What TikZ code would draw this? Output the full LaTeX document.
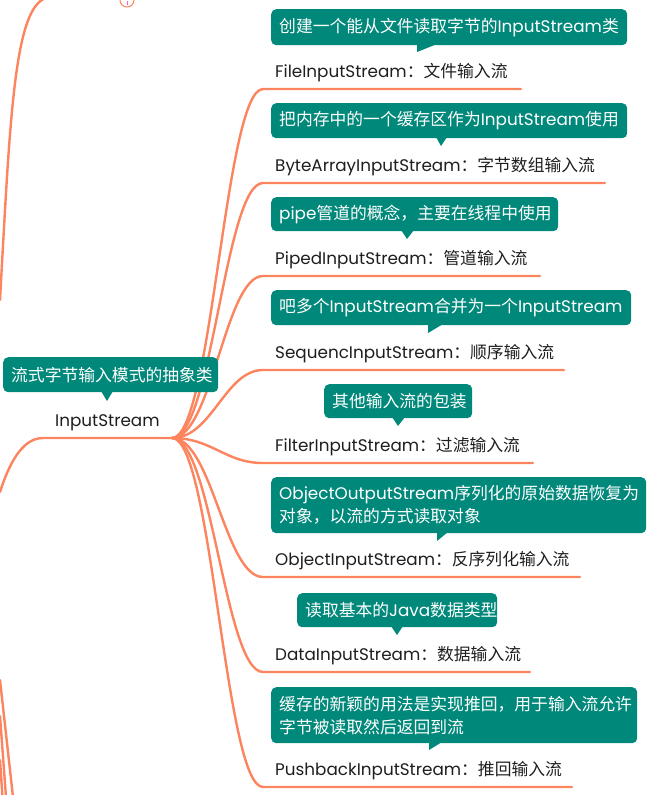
\documentclass[tikz,border=0pt]{standalone}
\usepackage{fontspec}
\setmainfont{Poppins}
\newfontfamily\cjk{Noto Sans CJK SC}
\newcommand\zh[1]{{\cjk #1}}
\newcommand\mapfont{\fontsize{16.8}{23}\selectfont}
\definecolor{branch}{RGB}{252,132,94}
\definecolor{notefill}{RGB}{0,136,122}
\definecolor{ink}{RGB}{30,30,30}
\tikzset{
  link/.style={draw=branch, line width=2.4pt, line cap=round},
  note/.style={fill=notefill, text=white, rounded corners=5pt, anchor=north west,
    inner xsep=8pt, inner ysep=0pt, align=left, text width=#1, font=\mapfont},
  leaf/.style={text=ink, anchor=base west, inner sep=0pt, font=\mapfont},
  tail/.style={fill=notefill}
}
\begin{document}
\begin{tikzpicture}[x=1pt,y=-1pt]
      \useasboundingbox (0,0) rectangle (654,795);
      \clip (0,0) rectangle (654,795);
      \draw[link] (0,300) .. controls (10,120) and (14,8) .. (46,-2);
      \draw[link] (0,680) -- (13,797);
      \draw[link] (0,716) -- (6,797);
      \draw[link] (0,760) -- (2.5,797);
      \draw[branch, line width=1pt, fill=white] (127,0) circle (7);
      \draw[magenta!60, line width=0.8pt] (127,1) -- (127,5);
      \coordinate (hub) at (172,438);
      \coordinate (rootEnd) at (43,438);
      \coordinate (uFile) at (263,89);      \coordinate (eFile) at (521,89);
      \coordinate (uByte) at (263,183);     \coordinate (eByte) at (605,183);
      \coordinate (uPiped) at (263,276);    \coordinate (ePiped) at (540,276);
      \coordinate (uSeq) at (263,370);      \coordinate (eSeq) at (564,370);
      \coordinate (uFilter) at (263,463);   \coordinate (eFilter) at (533,463);
      \coordinate (uObject) at (263,577);   \coordinate (eObject) at (580,577);
      \coordinate (uData) at (263,672);     \coordinate (eData) at (530,672);
      \coordinate (uPush) at (263,787);     \coordinate (ePush) at (572,787);
      \draw[link] (hub) -- (rootEnd) .. controls +(-22,0) and +(8,-25) .. (0,492);
      \draw[link] (hub) .. controls +(40,0) and +(-38,0) .. (uFile) -- (eFile);
      \draw[link] (hub) .. controls +(40,0) and +(-38,0) .. (uByte) -- (eByte);
      \draw[link] (hub) .. controls +(40,0) and +(-38,0) .. (uPiped) -- (ePiped);
      \draw[link] (hub) .. controls +(40,0) and +(-38,0) .. (uSeq) -- (eSeq);
      \draw[link] (hub) .. controls +(40,0) and +(-38,0) .. (uFilter) -- (eFilter);
      \draw[link] (hub) .. controls +(40,0) and +(-38,0) .. (uObject) -- (eObject);
      \draw[link] (hub) .. controls +(40,0) and +(-38,0) .. (uData) -- (eData);
      \draw[link] (hub) .. controls +(40,0) and +(-38,0) .. (uPush) -- (ePush);
      \node[note=199pt, minimum height=35pt] (nRoot) at (3,357) {\zh{流式字节输入模式的抽象类}};
      \fill[tail] (101,391) -- (107,401) -- (113,391) -- cycle;
      \node[leaf] (InputStream) at (55,426) {InputStream};
      \node[note=340pt, minimum height=36pt] (nFile) at (271,9)
        {\zh{创建一个能从文件读取字节的}InputStream\zh{类}};
      \fill[tail] (417,44) -- (417,52) -- (437,44) -- cycle;
      \node[leaf] (FileInputStream) at (275,77) {FileInputStream\zh{：文件输入流}};
      \node[note=340pt, minimum height=35pt] (nByte) at (271,103)
        {\zh{把内存中的一个缓存区作为}InputStream\zh{使用}};
      \fill[tail] (436,137) -- (441,146) -- (447,137) -- cycle;
      \node[leaf] (ByteArrayInputStream) at (275,171) {ByteArrayInputStream\zh{：字节数组输入流}};
      \node[note=271pt, minimum height=34pt] (nPiped) at (271,197)
        {pipe\zh{管道的概念，主要在线程中使用}};
      \fill[tail] (401,230) -- (407,239) -- (414,230) -- cycle;
      \node[leaf] (PipedInputStream) at (275,264) {PipedInputStream\zh{：管道输入流}};
      \node[note=344pt, minimum height=35pt] (nSeq) at (271,290)
        {\zh{吧多个}InputStream\zh{合并为一个}InputStream};
      \fill[tail] (428,324) -- (428,333) -- (443,324) -- cycle;
      \node[leaf] (SequencInputStream) at (275,358) {SequencInputStream\zh{：顺序输入流}};
      \node[note=132pt, minimum height=34pt] (nFilter) at (324,384) {\zh{其他输入流的包装}};
      \fill[tail] (392,417) -- (398,426) -- (405,417) -- cycle;
      \node[leaf] (FilterInputStream) at (275,451) {FilterInputStream\zh{：过滤输入流}};
      \node[note=359pt, minimum height=56pt] (nObject) at (271,477)
        {ObjectOutputStream\zh{序列化的原始数据恢复为}\\\zh{对象，以流的方式读取对象}};
      \fill[tail] (437,532) -- (437,541) -- (448,532) -- cycle;
      \node[leaf] (ObjectInputStream) at (275,565) {ObjectInputStream\zh{：反序列化输入流}};
      \node[note=184pt, minimum height=34pt] (nData) at (297,593)
        {\zh{读取基本的}Java\zh{数据类型}};
      \fill[tail] (391,626) -- (397,635) -- (403,626) -- cycle;
      \node[leaf] (DataInputStream) at (275,660) {DataInputStream\zh{：数据输入流}};
      \node[note=350pt, minimum height=56pt] (nPush) at (271,687)
        {\zh{缓存的新颖的用法是实现推回，用于输入流允许}\\\zh{字节被读取然后返回到流}};
      \fill[tail] (429,742) -- (429,750) -- (442,742) -- cycle;
      \node[leaf] (PushbackInputStream) at (275,775) {PushbackInputStream\zh{：推回输入流}};
    \end{tikzpicture}
\end{document}
